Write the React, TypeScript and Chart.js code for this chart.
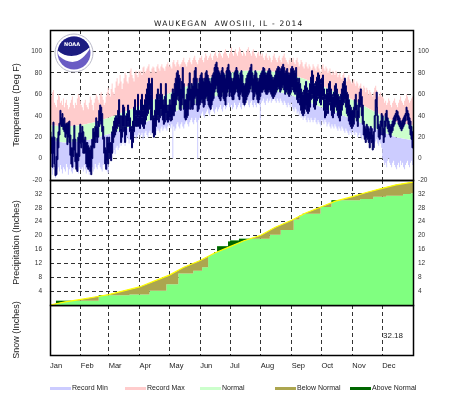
import React, { useEffect, useRef } from 'react';
import { Chart, registerables } from 'chart.js';

Chart.register(...registerables);

// ---------- labels ----------
const TITLE = 'WAUKEGAN  AWOSIII, IL - 2014';
const MONTHS = ['Jan', 'Feb', 'Mar', 'Apr', 'May', 'Jun', 'Jul', 'Aug', 'Sep', 'Oct', 'Nov', 'Dec'];
const MONTH_STARTS = [0, 31, 59, 90, 120, 151, 181, 212, 243, 273, 304, 334, 365];
const TEMP_TICKS = [-20, 0, 20, 40, 60, 80, 100];
const PRECIP_TICKS = [4, 8, 12, 16, 20, 24, 28, 32];
const LEGEND_LABELS = ['Record Min', 'Record Max', 'Normal', 'Below Normal', 'Above Normal'];
const TOTAL_PRECIP = '32.18';

// ---------- observed daily temperatures (deg F) ----------
const OBS_HI_JAN = [25,20,20,34,20,-8,2,19,25,33,45,38,42,37,38,32,33,33,34,35,22,10,10,18,31,18,5,5,20,24,32];
const OBS_LO_JAN = [10,5,-8,5,-5,-16,-15,-1,10,22,32,30,30,27,25,20,23,13,20,15,3,-5,-8,2,8,-3,-10,-12,-2,2,14];
const OBS_HI_FEB = [24,30,25,18,20,15,15,12,10,8,12,18,28,25,30,38,30,35,45,50,48,42,30,20,10,8,20,15];
const OBS_LO_FEB = [10,15,5,5,5,-5,-8,-10,-8,-12,-15,0,10,10,15,20,15,20,30,35,32,25,18,5,-5,-10,-2,-5];
const OBS_HI_MAR = [20,15,15,25,30,35,38,40,38,45,55,40,28,40,50,48,30,40,42,50,45,38,30,28,35,48,55,40,45,60,40];
const OBS_LO_MAR = [5,0,-2,5,15,20,22,25,28,30,32,25,15,20,30,25,15,22,30,35,30,25,18,10,15,25,35,30,30,38,30];
const OBS_HI_APR = [45,55,60,45,50,55,60,65,70,75,70,60,75,40,38,45,55,60,65,55,60,70,60,55,50,58,70,50,45,50];
const OBS_LO_APR = [28,32,38,30,28,32,36,40,42,50,46,36,40,24,20,22,30,36,40,34,38,46,40,36,32,34,42,36,34,36];
const OBS_HI_MAY = [55,50,60,65,62,70,75,80,82,78,75,65,72,85,70,55,55,60,65,70,80,65,70,68,75,82,85,75,65,70,75];
const OBS_LO_MAY = [38,35,36,40,40,44,50,55,58,54,46,45,50,56,46,38,36,38,40,46,54,46,48,46,50,56,58,50,44,46,50];
const OBS_HI_JUN = [78,80,75,72,75,80,82,78,75,72,70,75,78,80,85,88,90,85,82,80,78,82,85,80,78,75,82,85,88,82];
const OBS_LO_JUN = [52,55,52,48,50,56,58,54,50,48,46,50,54,56,62,65,68,62,58,56,54,58,62,56,54,50,58,62,65,58];
const OBS_HI_JUL = [80,75,72,75,80,82,85,82,78,75,80,82,78,70,68,70,75,78,80,82,85,88,80,75,78,82,80,75,72,75,78];
const OBS_LO_JUL = [62,58,55,55,60,62,65,62,58,55,60,62,58,52,50,52,55,58,60,62,65,68,62,55,58,62,60,55,52,55,58];
const OBS_HI_AUG = [80,82,85,84,80,78,80,82,84,82,78,76,74,76,78,82,84,86,85,82,84,86,88,85,80,82,84,80,78,80,84];
const OBS_LO_AUG = [62,62,64,65,62,60,60,62,64,62,60,58,56,58,60,62,64,66,65,62,64,66,68,64,60,62,64,60,58,60,62];
const OBS_HI_SEP = [86,84,82,80,85,75,72,75,70,65,62,60,64,68,72,66,62,64,70,76,82,78,70,68,72,76,80,78,74,70];
const OBS_LO_SEP = [66,64,62,60,62,55,52,56,50,45,42,40,42,46,50,44,42,44,48,55,60,56,48,46,50,54,58,56,52,50];
const OBS_HI_OCT = [75,78,65,55,60,65,62,70,72,65,60,58,62,68,70,65,60,58,55,60,65,70,72,75,68,62,60,55,50,48,45];
const OBS_LO_OCT = [55,58,45,38,40,45,42,50,52,45,40,38,42,48,50,45,40,38,35,40,45,50,52,55,48,42,40,35,32,30,28];
const OBS_HI_NOV = [45,48,55,60,50,45,55,62,65,58,50,35,30,28,32,30,28,25,30,28,22,25,40,55,62,40,32,30,35,42];
const OBS_LO_NOV = [30,32,38,45,35,30,38,48,50,40,32,22,18,15,20,18,15,10,18,15,8,10,25,40,48,28,20,18,22,30];
const OBS_HI_DEC = [40,28,35,42,45,38,35,32,30,32,35,38,40,42,45,44,40,38,35,34,36,38,40,42,48,45,42,38,35,30,25];
const OBS_LO_DEC = [22,15,20,30,35,28,25,22,20,24,26,30,32,35,38,36,32,30,28,26,28,30,32,35,40,36,32,28,22,18,10];

// ---------- daily records (deg F) ----------
const REC_HI_JAN = [55,58,62,64,52,50,48,55,60,58,52,54,50,56,48,52,55,50,46,48,52,55,58,50,47,52,50,56,60,58,54];
const REC_HI_FEB = [50,48,45,52,55,50,48,46,52,58,55,50,45,52,56,60,58,55,52,60,62,58,55,50,52,58,62,66];
const REC_HI_MAR = [60,58,65,70,62,60,66,72,75,68,70,78,72,65,70,75,80,78,72,70,76,82,84,78,75,72,80,82,78,76,82];
const REC_HI_APR = [80,82,78,85,86,80,82,84,86,88,82,80,84,86,85,82,80,86,88,84,82,86,88,85,84,82,86,88,90,86];
const REC_HI_MAY = [88,86,84,90,92,88,86,90,92,88,86,88,90,92,94,90,88,86,90,92,94,90,88,92,94,96,92,90,88,92,94];
const REC_HI_JUN = [94,96,92,90,94,98,96,92,94,96,98,94,92,96,98,100,96,94,98,100,98,96,94,98,100,102,98,96,94,98];
const REC_HI_JUL = [100,104,98,96,100,102,98,96,100,104,102,98,96,100,98,96,100,102,104,100,98,96,100,102,98,96,94,98,100,96,98];
const REC_HI_AUG = [96,98,94,92,96,98,94,92,96,94,90,92,96,98,94,92,90,94,96,92,90,94,96,98,94,92,90,88,92,94,90];
const REC_HI_SEP = [92,94,90,88,92,94,90,86,88,92,90,86,84,88,90,86,84,88,86,82,84,88,86,84,82,86,88,84,82,80];
const REC_HI_OCT = [86,88,84,82,86,84,80,82,84,80,78,82,80,78,82,80,76,78,80,76,74,78,80,76,74,72,76,78,74,72,70];
const REC_HI_NOV = [72,74,70,68,72,70,66,68,70,66,64,68,66,62,66,64,60,64,62,60,58,62,66,68,64,62,58,60,62,58];
const REC_HI_DEC = [58,56,52,54,50,52,56,54,50,48,52,54,56,52,50,48,52,55,58,54,52,50,54,56,60,58,55,52,54,56,58];

const REC_LO_JAN = [-12,-8,-15,-10,-5,-18,-16,-10,-8,-12,-6,-10,-14,-8,-10,-12,-5,-8,-15,-10,-6,-12,-14,-10,-8,-5,-10,-12,-14,-8,-10];
const REC_LO_FEB = [-10,-8,-12,-6,-10,-14,-8,-12,-15,-10,-6,-8,-12,-10,-5,-8,-10,-6,-4,-8,-10,-12,-6,-4,-8,-10,-12,-14];
const REC_LO_MAR = [0,2,-2,4,6,8,4,10,12,8,10,14,12,16,14,18,12,16,20,18,14,18,22,20,16,20,22,18,20,22,24];
const REC_LO_APR = [20,22,24,18,20,24,26,22,20,24,26,22,24,26,28,24,22,26,28,26,24,28,30,26,28,30,28,26,30,32];
const REC_LO_MAY = [30,28,32,0,30,26,28,32,34,30,28,32,34,30,28,32,34,36,32,30,34,36,38,34,32,36,38,34,0,36,38];
const REC_LO_JUN = [40,42,44,40,38,42,44,46,42,40,44,46,48,44,42,46,48,44,46,48,50,46,44,48,50,46,48,50,52,48];
const REC_LO_JUL = [48,50,46,48,52,50,46,48,50,52,48,46,50,52,48,50,52,54,50,48,52,54,50,48,52,50,48,52,54,50,36];
const REC_LO_AUG = [52,54,56,52,50,54,56,52,54,56,52,54,56,58,54,52,56,54,52,56,54,52,50,54,52,50,48,52,50,48,52];
const REC_LO_SEP = [48,46,44,48,46,42,44,40,42,38,40,36,38,40,36,34,38,36,34,38,36,34,36,38,34,32,36,34,32,30];
const REC_LO_OCT = [36,34,32,36,34,30,32,34,30,28,32,30,28,32,30,28,26,30,28,26,30,28,26,24,28,26,24,22,26,24,22];
const REC_LO_NOV = [26,24,22,25,24,20,22,24,20,18,22,20,18,22,20,16,18,20,16,14,18,16,14,16,18,14,12,16,14,10];
const REC_LO_DEC = [0,-2,-6,-4,-8,-2,0,-4,-6,-8,-4,-2,-6,-8,-10,-6,-4,-8,-2,-6,-4,-8,-10,-6,-4,-2,-6,-8,-4,-2,-6];

// ---------- normals (read at the 1st and 15th of each month) ----------
const NORMAL_DAYS = [0,14,31,45,59,73,90,104,120,134,151,165,181,195,212,226,243,257,273,287,304,318,334,348,365];
const NORMAL_MAX = [31,30,31,34,38,43,49,55,61,66,72,77,80,82,82,81,78,74,68,62,55,48,40,34,31];
const NORMAL_MIN = [17,15,16,19,23,27,32,37,42,47,53,58,62,64,64,63,59,54,48,43,37,31,25,20,17];
const NORMAL_PRECIP = [0,0.85,1.6,2.3,3.0,4.0,5.2,6.8,8.6,10.8,12.8,14.9,16.8,18.5,20.1,22.3,24.4,26.5,28.3,29.9,31.2,32.4,33.6,34.6,35.4];

// ---------- observed cumulative precipitation (inches), at the days it changed ----------
const PRECIP_DAYS = [0,6,49,80,100,117,129,144,153,159,162,165,168,179,181,190,221,232,245,251,254,272,283,312,325,338,355,362];
const PRECIP_OBS = [0.05,1.2,2.8,3.05,4.1,6.0,9.1,9.9,10.9,14.1,14.6,15.3,16.9,18.3,18.6,19.1,20.2,21.6,24.6,25.8,26.3,28.2,30.2,30.5,31.2,31.5,32.0,32.18];

const OBS_HI = [].concat(OBS_HI_JAN, OBS_HI_FEB, OBS_HI_MAR, OBS_HI_APR, OBS_HI_MAY, OBS_HI_JUN, OBS_HI_JUL, OBS_HI_AUG, OBS_HI_SEP, OBS_HI_OCT, OBS_HI_NOV, OBS_HI_DEC);
const OBS_LO = [].concat(OBS_LO_JAN, OBS_LO_FEB, OBS_LO_MAR, OBS_LO_APR, OBS_LO_MAY, OBS_LO_JUN, OBS_LO_JUL, OBS_LO_AUG, OBS_LO_SEP, OBS_LO_OCT, OBS_LO_NOV, OBS_LO_DEC);
const REC_HI = [].concat(REC_HI_JAN, REC_HI_FEB, REC_HI_MAR, REC_HI_APR, REC_HI_MAY, REC_HI_JUN, REC_HI_JUL, REC_HI_AUG, REC_HI_SEP, REC_HI_OCT, REC_HI_NOV, REC_HI_DEC);
const REC_LO = [].concat(REC_LO_JAN, REC_LO_FEB, REC_LO_MAR, REC_LO_APR, REC_LO_MAY, REC_LO_JUN, REC_LO_JUL, REC_LO_AUG, REC_LO_SEP, REC_LO_OCT, REC_LO_NOV, REC_LO_DEC);

// ---------- styles ----------
const W = 463;
const H = 395;
const C_PINK = '#ffcccc';
const C_BLUE = '#ccccff';
const C_NORMAL = '#ccffcc';
const C_NAVY = '#000066';
const C_PRECIP = '#80ff80';
const C_BELOW = '#aca64f';
const C_ABOVE = '#006600';
const C_YELLOW = '#ffff00';
const LEGEND_COLORS = [C_BLUE, C_PINK, C_NORMAL, C_BELOW, C_ABOVE];
const LEGEND_X = [50, 125, 200, 275, 350];

type P = { x: number; y: number };
// one point per day (value holds for the whole day, drawn with stepped lines)
function daily(vals: number[]): P[] {
  const pts: P[] = vals.map((v, i) => ({ x: i, y: v }));
  pts.push({ x: vals.length, y: vals[vals.length - 1] });
  return pts;
}
function steps(days: number[], vals: number[]): P[] {
  const pts: P[] = days.map((d, i) => ({ x: d, y: vals[i] }));
  pts.push({ x: 365, y: vals[vals.length - 1] });
  return pts;
}
function curve(days: number[], vals: number[]): P[] {
  return days.map((d, i) => ({ x: d, y: vals[i] }));
}

const borderPlugin = {
  id: 'panelBorder',
  afterDraw(chart: any) {
    const { ctx, chartArea: a } = chart;
    ctx.save();
    ctx.strokeStyle = '#000';
    ctx.lineWidth = 1.5;
    ctx.strokeRect(a.left + 0.5, a.top + 0.5, a.right - a.left, a.bottom - a.top);
    ctx.restore();
  },
};

const headerPlugin = {
  id: 'header',
  afterDraw(chart: any) {
    const ctx = chart.ctx;
    ctx.save();
    ctx.font = '7.5px "DejaVu Sans"';
    try { (ctx as any).letterSpacing = '1.2px'; } catch (e) { /* ignore */ }
    ctx.fillStyle = '#111';
    ctx.textAlign = 'left';
    ctx.textBaseline = 'alphabetic';
    ctx.fillText(TITLE, 154, 25.5);
    try { (ctx as any).letterSpacing = '0px'; } catch (e) { /* ignore */ }
    // NOAA logo
    const cx = 74, cy = 53;
    ctx.beginPath();
    ctx.arc(cx, cy, 19, 0, Math.PI * 2);
    ctx.fillStyle = '#ffffff';
    ctx.fill();
    ctx.strokeStyle = '#b8b8c8';
    ctx.lineWidth = 1;
    ctx.stroke();
    ctx.save();
    ctx.beginPath();
    ctx.arc(cx, cy, 16.5, 0, Math.PI * 2);
    ctx.clip();
    ctx.fillStyle = '#6a5cc4';
    ctx.fillRect(cx - 20, cy - 20, 40, 40);
    ctx.beginPath();
    ctx.moveTo(cx - 20, cy - 20);
    ctx.lineTo(cx + 20, cy - 20);
    ctx.lineTo(cx + 20, cy - 8);
    ctx.quadraticCurveTo(cx, cy + 12, cx - 20, cy - 4);
    ctx.closePath();
    ctx.fillStyle = '#1c1c80';
    ctx.fill();
    ctx.beginPath();
    ctx.moveTo(cx - 18, cy - 4);
    ctx.quadraticCurveTo(cx - 1, cy + 12, cx + 18, cy - 8);
    ctx.quadraticCurveTo(cx + 4, cy + 19, cx - 15, cy + 3);
    ctx.closePath();
    ctx.fillStyle = '#ffffff';
    ctx.fill();
    ctx.restore();
    ctx.font = 'bold 5px "DejaVu Sans"';
    ctx.fillStyle = '#ffffff';
    ctx.textAlign = 'center';
    ctx.textBaseline = 'middle';
    ctx.fillText('NOAA', cx - 2, cy - 8);
    ctx.restore();
  },
};

const footerPlugin = {
  id: 'footer',
  afterDraw(chart: any) {
    const ctx = chart.ctx;
    ctx.save();
    ctx.font = '8px "Liberation Sans"';
    ctx.fillStyle = '#222';
    ctx.textAlign = 'left';
    ctx.textBaseline = 'middle';
    ctx.fillText(TOTAL_PRECIP, 383, 336);
    ctx.font = '7px "Liberation Sans"';
    LEGEND_LABELS.forEach((lab, i) => {
      const x = LEGEND_X[i];
      ctx.fillStyle = LEGEND_COLORS[i];
      ctx.fillRect(x, 387, 21, 3);
      ctx.fillStyle = '#222';
      ctx.textBaseline = 'alphabetic';
      ctx.fillText(lab, x + 22, 390);
    });
    ctx.restore();
  },
};

function xScale(showLabels: boolean) {
  return {
    type: 'linear',
    min: 0,
    max: 365,
    z: 1,
    afterBuildTicks: (s: any) => { s.ticks = MONTH_STARTS.map((v) => ({ value: v })); },
    afterFit: (s: any) => { s.height = showLabels ? 40 : 0; },
    grid: { color: '#333', lineWidth: 1, drawTicks: false },
    border: { display: false, dash: [4, 3] },
    ticks: {
      display: showLabels,
      autoSkip: false,
      maxRotation: 0,
      minRotation: 0,
      align: 'start',
      padding: 6,
      color: '#222',
      font: { family: 'Liberation Sans', size: 7.5 },
      callback: (v: number) => {
        const i = MONTH_STARTS.indexOf(v);
        return i >= 0 && i < 12 ? MONTHS[i] : '';
      },
    },
  };
}

function yScale(pos: string, min: number, max: number, ticks: number[], title: string | null) {
  return {
    type: 'linear',
    position: pos,
    min,
    max,
    z: 1,
    afterBuildTicks: (s: any) => { s.ticks = ticks.map((v) => ({ value: v })); },
    afterFit: (s: any) => { s.width = 50; },
    grid: { display: pos === 'left', color: '#333', lineWidth: 1, drawTicks: false },
    border: { display: false, dash: [4, 3] },
    ticks: {
      display: ticks.length > 0,
      autoSkip: false,
      padding: pos === 'left' ? 8 : 5,
      color: '#333',
      font: { family: 'Liberation Sans', size: 6.5 },
    },
    title: title
      ? { display: true, text: title, color: '#222', font: { family: 'Liberation Sans', size: 9 }, padding: { top: 11, bottom: 0 } }
      : { display: false },
  };
}

function baseOptions(padTop: number, padBottom: number) {
  return {
    animation: false,
    responsive: false,
    devicePixelRatio: 1,
    events: [],
    layout: { padding: { top: padTop, bottom: padBottom, left: 0, right: 0 } },
    elements: { point: { radius: 0 }, line: { borderWidth: 0, tension: 0 } },
    plugins: { legend: { display: false }, tooltip: { enabled: false }, title: { display: false } },
  };
}

function tempConfig(): any {
  return {
    type: 'line',
    data: {
      datasets: [
        { data: curve(NORMAL_DAYS, NORMAL_MAX), fill: 1, backgroundColor: C_NORMAL, borderWidth: 0, order: 3 },
        { data: curve(NORMAL_DAYS, NORMAL_MIN), fill: false, borderWidth: 0, order: 3 },
        { data: daily(REC_HI), stepped: true, fill: { target: 0, above: C_PINK, below: 'rgba(0,0,0,0)' }, borderWidth: 0, order: 2 },
        { data: daily(REC_LO), stepped: true, fill: { target: 1, above: 'rgba(0,0,0,0)', below: C_BLUE }, borderWidth: 0, order: 2 },
        { data: daily(OBS_HI), stepped: true, fill: 5, backgroundColor: C_NAVY, borderColor: C_NAVY, borderWidth: 1, order: 1 },
        { data: daily(OBS_LO), stepped: true, fill: false, borderColor: C_NAVY, borderWidth: 1, order: 1 },
      ],
    },
    options: {
      ...baseOptions(30, H - 180),
      scales: {
        x: xScale(false),
        y: yScale('left', -20, 120, TEMP_TICKS, 'Temperature (Deg F)'),
        y2: yScale('right', -20, 120, TEMP_TICKS, null),
      },
    },
    plugins: [borderPlugin, headerPlugin],
  };
}

function precipConfig(): any {
  return {
    type: 'line',
    data: {
      datasets: [
        { data: curve(NORMAL_DAYS, NORMAL_PRECIP), fill: false, borderColor: C_YELLOW, borderWidth: 1.2, order: 0 },
        { data: steps(PRECIP_DAYS, PRECIP_OBS), stepped: true, fill: 'origin', backgroundColor: C_PRECIP, borderWidth: 0, order: 3 },
        { data: steps(PRECIP_DAYS, PRECIP_OBS), stepped: true, fill: { target: 0, above: C_ABOVE, below: C_BELOW }, borderWidth: 0, order: 2 },
      ],
    },
    options: {
      ...baseOptions(180, H - 305),
      scales: {
        x: xScale(false),
        y: yScale('left', 0, 36, PRECIP_TICKS, 'Precipitation (Inches)'),
        y2: yScale('right', 0, 36, PRECIP_TICKS, null),
      },
    },
    plugins: [borderPlugin],
  };
}

function snowConfig(): any {
  return {
    type: 'line',
    data: { datasets: [] },
    options: {
      ...baseOptions(305, 0),
      scales: {
        x: xScale(true),
        y: yScale('left', 0, 1, [], 'Snow (Inches)'),
        y2: yScale('right', 0, 1, [], null),
      },
    },
    plugins: [borderPlugin, footerPlugin],
  };
}

export default function App() {
  const tRef = useRef<HTMLCanvasElement>(null);
  const pRef = useRef<HTMLCanvasElement>(null);
  const sRef = useRef<HTMLCanvasElement>(null);

  useEffect(() => {
    const charts = [
      new Chart(sRef.current as HTMLCanvasElement, snowConfig()),
      new Chart(pRef.current as HTMLCanvasElement, precipConfig()),
      new Chart(tRef.current as HTMLCanvasElement, tempConfig()),
    ];
    return () => charts.forEach((c) => c.destroy());
  }, []);

  const cs: React.CSSProperties = { position: 'absolute', left: 0, top: 0, width: W, height: H };
  return (
    <div style={{ position: 'fixed', left: 0, top: 0, width: W, height: H, background: '#ffffff', overflow: 'hidden' }}>
      <canvas ref={sRef} width={W} height={H} style={cs} />
      <canvas ref={pRef} width={W} height={H} style={cs} />
      <canvas ref={tRef} width={W} height={H} style={cs} />
    </div>
  );
}
